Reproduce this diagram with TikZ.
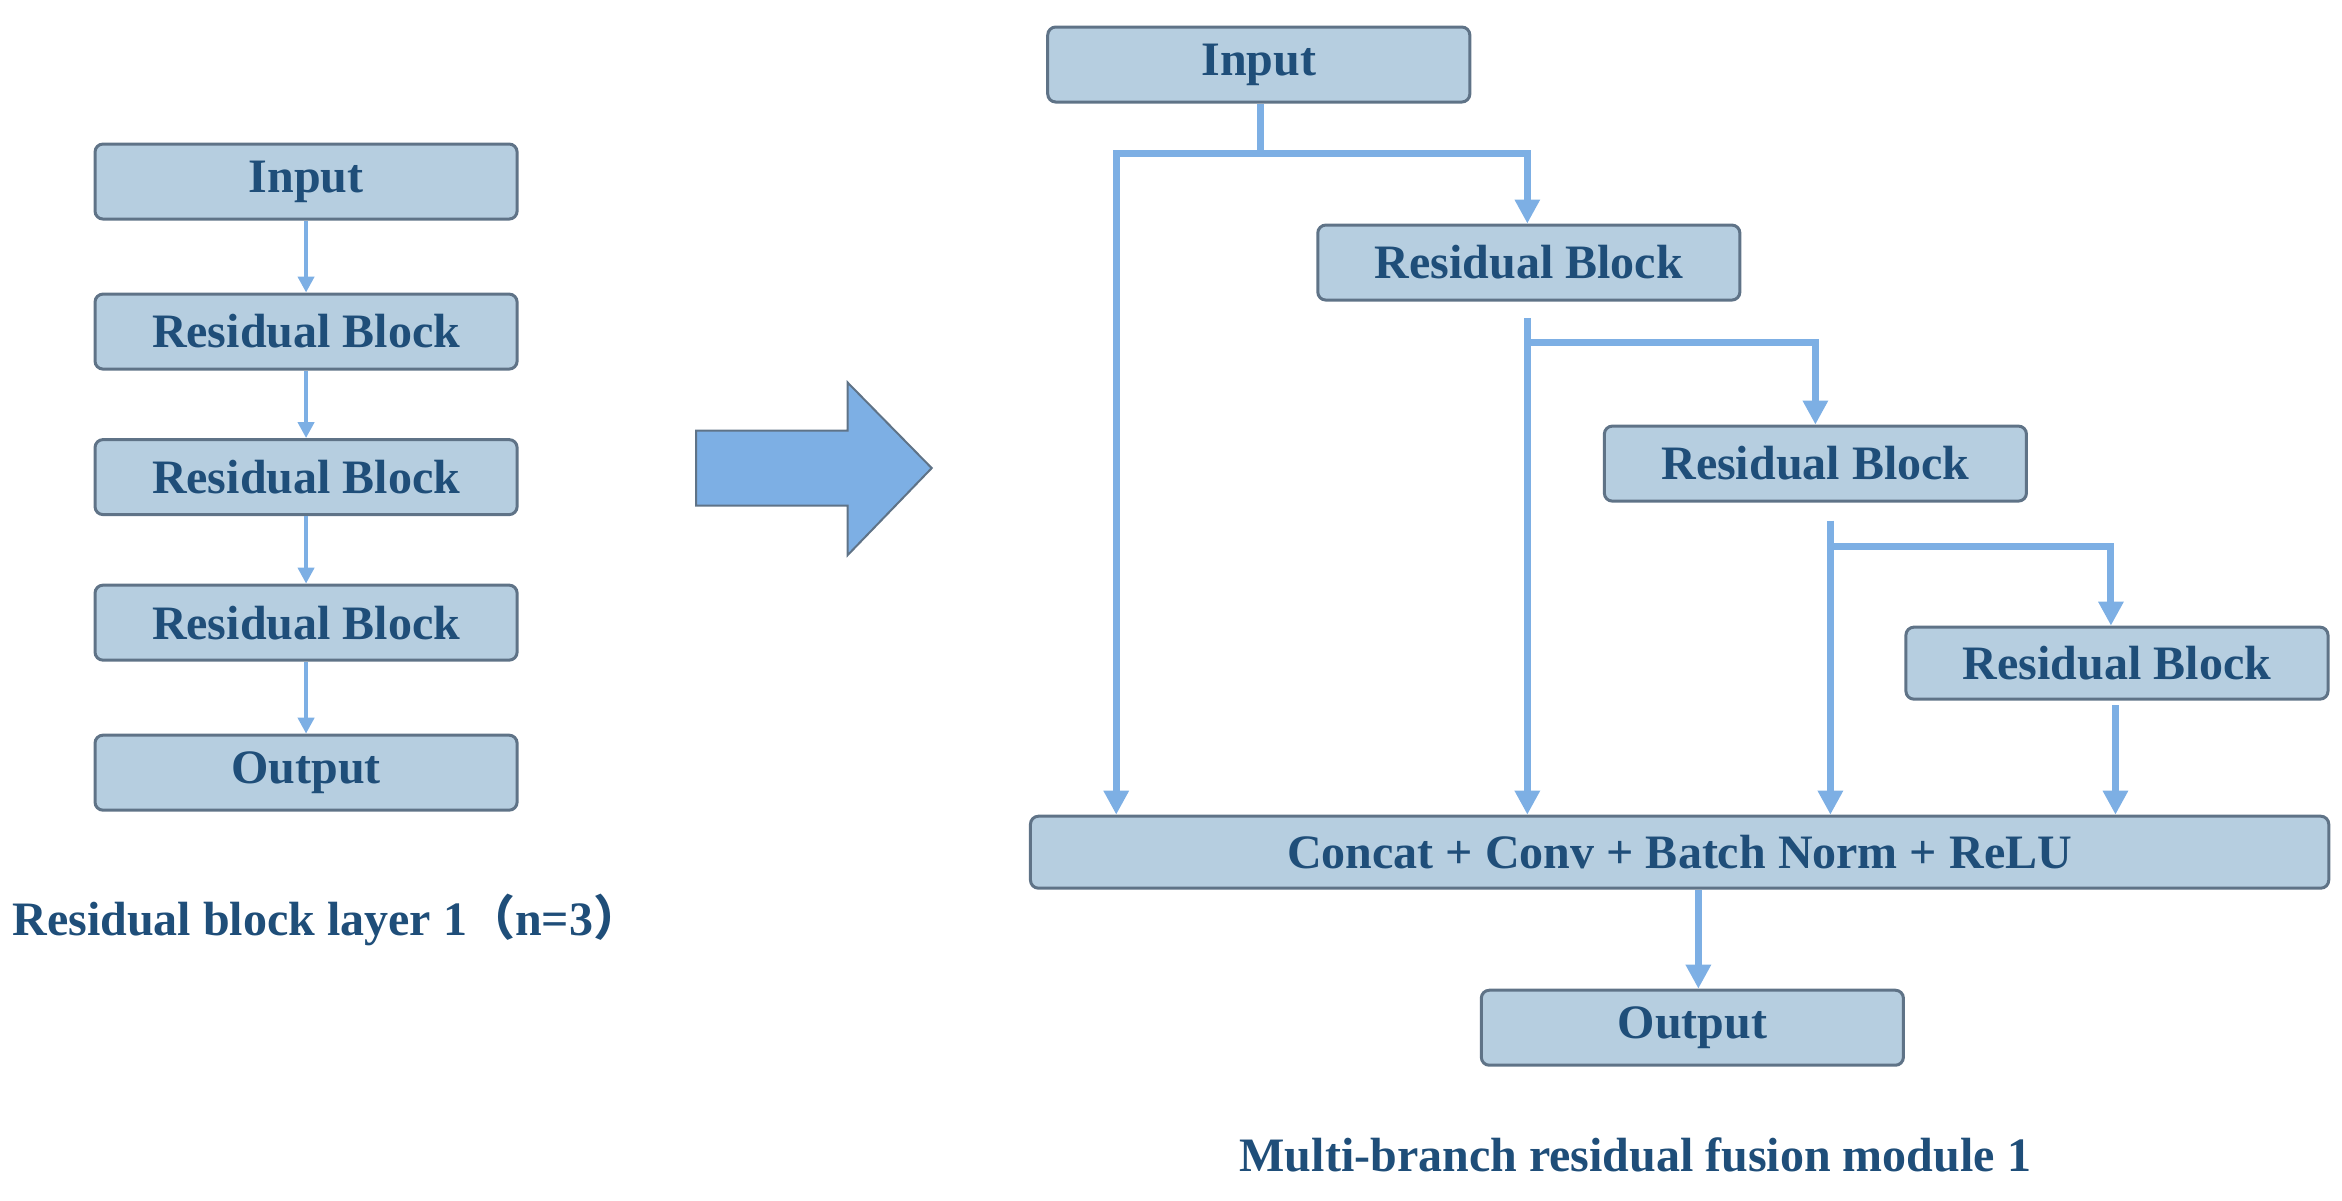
\documentclass[tikz,border=0pt]{standalone}
\usepackage{fontspec}
\setmainfont{Liberation Serif}
\newfontfamily\cjk{Noto Sans CJK SC}
\usetikzlibrary{arrows.meta}
\definecolor{txt}{RGB}{31,78,121}
\definecolor{boxf}{RGB}{182,206,224}
\definecolor{boxd}{RGB}{95,115,135}
\definecolor{arr}{RGB}{125,175,228}
\begin{document}
\begin{tikzpicture}[x=0.75pt,y=-0.75pt,
  bx/.style={draw=boxd,line width=1.5pt,fill=boxf,rounded corners=4pt,inner sep=0pt,font=\bfseries\fontsize{24}{28}\selectfont,text=txt},
  thin/.style={draw=arr,line width=2.2pt,-{Triangle[length=8pt,width=8pt]}},
  thick/.style={draw=arr,line width=3.5pt},
  thickar/.style={thick,-{Triangle[length=12pt,width=12pt]}}]
\useasboundingbox (0,0) rectangle (1561,800);
% left column
\newcommand{\lbox}[3]{\node[bx,minimum width=211pt,minimum height=37.5pt] (#1) at (204,#2) {#3};}
\lbox{li}{121}{Input}
\lbox{l1}{221}{Residual Block}
\lbox{l2}{318}{Residual Block}
\lbox{l3}{415}{Residual Block}
\lbox{lo}{515}{Output}
\draw[thin] (li) -- (l1);
\draw[thin] (l1) -- (l2);
\draw[thin] (l2) -- (l3);
\draw[thin] (l3) -- (lo);
\node[anchor=west,font=\bfseries\fontsize{24}{28}\selectfont,text=txt,inner sep=0pt] (lcap) at (8,613) {Residual block layer 1{\cjk（}n=3{\cjk）}};
% big arrow
\path[fill=arr,draw=boxd,line width=1pt] (464,287) -- (565,287) -- (565,255) -- (621,312) -- (565,370) -- (565,337) -- (464,337) -- cycle;
% right
\node[bx,minimum width=211pt,minimum height=37.5pt] (ri) at (839,43) {Input};
\node[bx,minimum width=211pt,minimum height=37.5pt] (ra) at (1019,175) {Residual Block};
\node[bx,minimum width=211pt,minimum height=37.5pt] (rb) at (1210,309) {Residual Block};
\node[bx,minimum width=211pt,minimum height=36pt] (rc) at (1411,442) {Residual Block};
\node[bx,minimum width=649pt,minimum height=36pt] (cc) at (1119.5,568) {Concat + Conv + Batch Norm + ReLU};
\node[bx,minimum width=211pt,minimum height=37.5pt] (ro) at (1128,685) {Output};
\node[font=\bfseries\fontsize{24}{28}\selectfont,text=txt,inner sep=0pt] (rcap) at (1090,770) {Multi-branch residual fusion module 1};
\coordinate (j0) at (840,102);
\coordinate (j1) at (1018,228);
\coordinate (j2) at (1220,364);
\coordinate (a0) at (744,102);
\coordinate (a1) at (1018,102);
\coordinate (b1) at (1210,228);
\coordinate (c1) at (1407,364);
\coordinate (d0) at (1410,470);
\coordinate (e0) at (1132,600);
\draw[thick] (ri.south -| j0) -- (j0);
\draw[thickar] (j0) -- (a0) -- (a0 |- cc.north);
\draw[thickar] (j0) -- (a1) -- (a1 |- ra.north);
\draw[thick] (1018,212) -- (j1);
\draw[thickar] (j1) -- (j1 |- cc.north);
\draw[thickar] (j1) -- (b1) -- (b1 |- rb.north);
\draw[thick] (1220,347) -- (j2);
\draw[thickar] (j2) -- (j2 |- cc.north);
\draw[thickar] (j2) -- (c1) -- (c1 |- rc.north);
\draw[thickar] (d0) -- (d0 |- cc.north);
\draw[thickar] (e0 |- cc.south) -- (e0 |- ro.north);
\end{tikzpicture}
\end{document}
